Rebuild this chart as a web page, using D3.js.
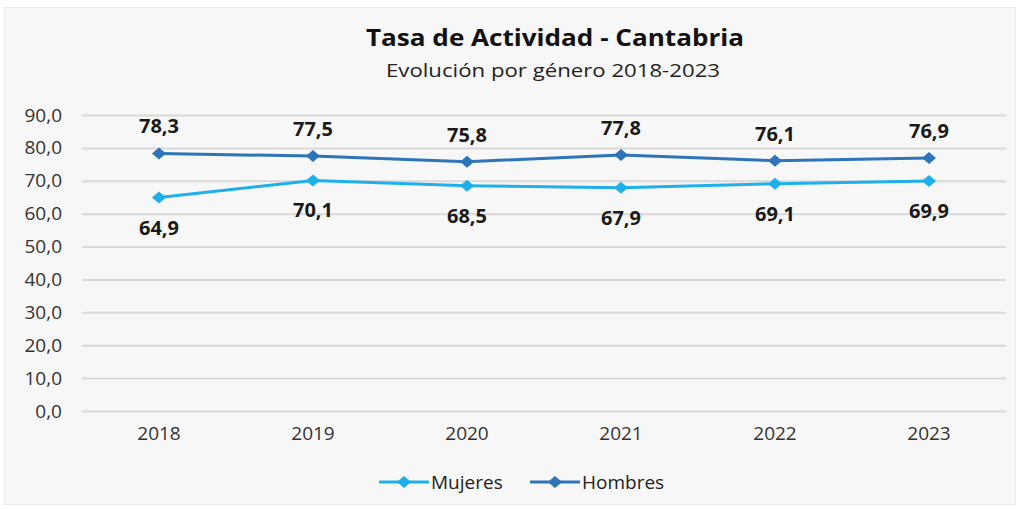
<!DOCTYPE html>
<html>
<head>
<meta charset="utf-8">
<script src="https://cdn.jsdelivr.net/npm/d3@7"></script>
<style>
  body { margin: 0; background: #fff; }
  text { font-family: "Open Sans", "Noto Sans", sans-serif; }
</style>
</head>
<body>
<svg id="chart" width="1020" height="509"></svg>
<script>
'use strict';

// data
var years   = ['2018', '2019', '2020', '2021', '2022', '2023'];
var mujeres = [64.9, 70.1, 68.5, 67.9, 69.1, 69.9];
var hombres = [78.3, 77.5, 75.8, 77.8, 76.1, 76.9];
var yTicks  = [0, 10, 20, 30, 40, 50, 60, 70, 80, 90];

var series = [
  { name: 'Mujeres', values: mujeres, color: '#1eb0ea', labelPos: 'below' },
  { name: 'Hombres', values: hombres, color: '#2e74b8', labelPos: 'above' }
];

var svg = d3.select('#chart');
var fmt = (v) => v.toFixed(1).replace('.', ',');

// frame
svg.append('rect')
  .attr('x', 4.5).attr('y', 7.5)
  .attr('width', 1011).attr('height', 497)
  .attr('fill', '#f7f7f7')
  .attr('stroke', '#ececec');

var margin = { left: 82, right: 1006, top: 115, bottom: 411 };

var x = d3.scaleBand()
  .domain(years)
  .range([margin.left, margin.right]);

var y = d3.scaleLinear()
  .domain([0, 90])
  .range([margin.bottom, margin.top]);

// titles
svg.append('text')
  .attr('x', 555).attr('y', 46)
  .attr('text-anchor', 'middle')
  .attr('font-size', 23)
  .attr('font-weight', 'bold')
  .attr('fill', '#111')
  .attr('textLength', 378)
  .attr('lengthAdjust', 'spacingAndGlyphs')
  .text('Tasa de Actividad - Cantabria');

svg.append('text')
  .attr('x', 553).attr('y', 77)
  .attr('text-anchor', 'middle')
  .attr('font-size', 19)
  .attr('fill', '#222')
  .attr('textLength', 334)
  .attr('lengthAdjust', 'spacingAndGlyphs')
  .text('Evolución por género 2018-2023');

// y grid + labels
var yAxis = svg.append('g')
  .attr('transform', 'translate(' + margin.left + ',0)')
  .call(d3.axisLeft(y)
    .tickValues(yTicks)
    .tickSize(-(margin.right - margin.left))
    .tickPadding(20)
    .tickFormat(fmt));

yAxis.select('.domain').remove();
yAxis.selectAll('.tick line')
  .attr('stroke', '#d9d9d9')
  .attr('stroke-width', 2);
yAxis.selectAll('.tick text')
  .attr('font-size', 19)
  .attr('fill', '#333')
  .attr('font-family', '"Open Sans", sans-serif');

// x labels
var xAxis = svg.append('g')
  .attr('transform', 'translate(0,' + margin.bottom + ')')
  .call(d3.axisBottom(x).tickSize(0).tickPadding(16));

xAxis.select('.domain').remove();
xAxis.selectAll('.tick text')
  .attr('font-size', 19)
  .attr('fill', '#333')
  .attr('font-family', '"Open Sans", sans-serif');

var cx = (d, i) => x(years[i]) + x.bandwidth() / 2;
var line = d3.line()
  .x(cx)
  .y((d) => y(d));

// wide diamond marker
var diamond = 'M-7,0L0,-6L7,0L0,6Z';

series.forEach((s) => {
  var g = svg.append('g').attr('class', 'series');

  g.append('path')
    .datum(s.values)
    .attr('fill', 'none')
    .attr('stroke', s.color)
    .attr('stroke-width', 3)
    .attr('d', line);

  g.selectAll('.pt')
    .data(s.values)
    .join('path')
    .attr('class', 'pt')
    .attr('d', diamond)
    .attr('fill', s.color)
    .attr('transform', (d, i) => 'translate(' + cx(d, i) + ',' + y(d) + ')');

  g.selectAll('.lbl')
    .data(s.values)
    .join('text')
    .attr('class', 'lbl')
    .attr('x', cx)
    .attr('y', (d) => s.labelPos === 'above' ? y(d) - 20 : y(d) + 37)
    .attr('text-anchor', 'middle')
    .attr('font-size', 20)
    .attr('font-weight', 'bold')
    .attr('fill', '#1a1a1a')
    .text(fmt);
});

// legend
var legend = svg.append('g').attr('transform', 'translate(379,482)');
var legendX = [0, 151];

series.forEach((s, i) => {
  var lg = legend.append('g').attr('transform', 'translate(' + legendX[i] + ',0)');
  lg.append('line')
    .attr('x1', 0).attr('x2', 50)
    .attr('y1', 0).attr('y2', 0)
    .attr('stroke', s.color)
    .attr('stroke-width', 3);
  lg.append('path')
    .attr('d', diamond)
    .attr('fill', s.color)
    .attr('transform', 'translate(25,0)');
  lg.append('text')
    .attr('x', 52).attr('y', 7)
    .attr('font-size', 19)
    .attr('fill', '#222')
    .text(s.name);
});
</script>
</body>
</html>
